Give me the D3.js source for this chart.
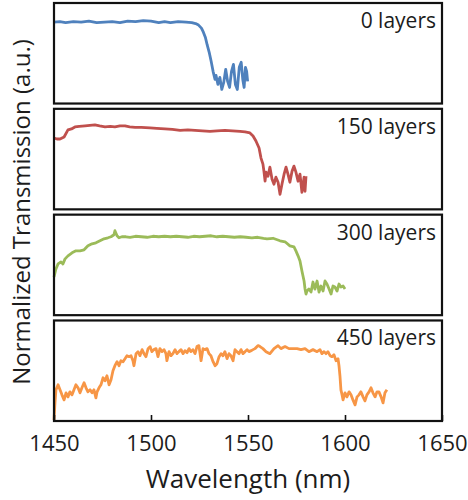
<!DOCTYPE html>
<html>
<head>
<meta charset="utf-8">
<script src="https://cdnjs.cloudflare.com/ajax/libs/d3/7.8.5/d3.min.js"></script>
<style>
  body { margin: 0; background: #fff; }
  text { font-family: "Open Sans", sans-serif; fill: #1c1c1c; }
</style>
</head>
<body>
<div id="chart"></div>
<script>
const width = 468;
const height = 500;
const margins = ({
    top: 3,
    right: 26,
    bottom: 79,
    left: 54
})
const panelGap = 5.3

// tick labels of the shared wavelength axis
const xTicks = [1450, 1500, 1550, 1600, 1650]
const panelLabels = ["0 layers", "150 layers", "300 layers", "450 layers"]
const colors = ["#4f81bd", "#c0504d", "#9bbb59", "#f79646"]

// wavelength (nm), normalized transmission (a.u.)
const wl0 = [1450, 1453, 1456, 1460, 1464, 1468, 1472, 1476, 1480, 1484, 1488, 1492, 1496, 1500, 1504, 1507, 1510, 1514, 1518, 1521,
    1523, 1524.5, 1526, 1527, 1528, 1529, 1530, 1531, 1532, 1533, 1533.5, 1534.5, 1535.5, 1536.5, 1537.5, 1538.5, 1539.5, 1540.5,
    1541.5, 1542.5, 1543.5, 1544.5, 1545.5, 1546.5, 1547.3, 1548, 1548.7, 1549.3, 1549.8]
const t0 = [0.81, 0.815, 0.805, 0.815, 0.81, 0.82, 0.805, 0.81, 0.815, 0.805, 0.82, 0.815, 0.825, 0.82, 0.805, 0.815, 0.805, 0.815, 0.81, 0.805,
    0.795, 0.78, 0.75, 0.71, 0.66, 0.58, 0.51, 0.42, 0.32, 0.24, 0.28, 0.19, 0.26, 0.14, 0.21, 0.34, 0.22, 0.16,
    0.32, 0.39, 0.19, 0.14, 0.36, 0.41, 0.24, 0.16, 0.36, 0.32, 0.22]

const wl150 = [1450, 1451.5, 1453.1, 1455.2, 1457.2, 1459, 1460.8, 1463, 1466, 1468.5, 1471.1, 1473.5, 1476.3, 1479, 1481.4, 1484, 1486.6,
    1489, 1491.8, 1495, 1499.5, 1503, 1507.2, 1511, 1515, 1519, 1522.7, 1526.5, 1530.4, 1534, 1538.1, 1542, 1545.9, 1548.5, 1551,
    1552.6, 1554.1, 1555.7, 1556.7, 1557.7, 1558.2, 1558.8, 1559.3, 1560.3, 1561.3, 1562.4, 1563.4, 1564.4, 1565.5, 1566.5, 1567.5,
    1568.6, 1569.6, 1570.6, 1571.6, 1572.7, 1573.7, 1574.7, 1575.8, 1576.8, 1577.8, 1578.9, 1579.4, 1579.9]
const t150 = [0.71, 0.70, 0.70, 0.72, 0.79, 0.80, 0.82, 0.825, 0.83, 0.835, 0.84, 0.83, 0.82, 0.825, 0.82, 0.83, 0.83,
    0.82, 0.815, 0.815, 0.81, 0.805, 0.80, 0.795, 0.785, 0.79, 0.785, 0.78, 0.775, 0.78, 0.785, 0.78, 0.775, 0.77, 0.76,
    0.73, 0.68, 0.61, 0.51, 0.45, 0.38, 0.28, 0.37, 0.33, 0.42, 0.30, 0.25, 0.32, 0.27, 0.15, 0.25,
    0.35, 0.42, 0.35, 0.27, 0.38, 0.43, 0.37, 0.28, 0.35, 0.17, 0.32, 0.18, 0.33]

const wl300 = [1450, 1451, 1452.1, 1453.6, 1454.6, 1455.7, 1457.2, 1459.3, 1461.3, 1463.4, 1465.5, 1467.5, 1469.6, 1471.6, 1473.7,
    1475.8, 1477.8, 1479.4, 1480.9, 1481.4, 1482.5, 1483.5, 1485, 1487.1, 1489.2, 1492, 1495, 1498, 1501, 1504, 1507, 1510, 1513,
    1516, 1519, 1522, 1525, 1528, 1531, 1534, 1537, 1540, 1543, 1546, 1549, 1552, 1555, 1558, 1559.8, 1562.9, 1566.5, 1569.1,
    1571.6, 1573.7, 1574.7, 1575.8, 1576.8, 1577.8, 1578.9, 1579.4, 1579.9, 1580.4, 1581.4, 1582.5, 1583.5, 1584.5, 1585.6,
    1586.6, 1587.6, 1588.7, 1589.7, 1590.7, 1591.8, 1592.8, 1593.8, 1594.8, 1595.9, 1596.9, 1597.9, 1599, 1600]
const t300 = [0.38, 0.46, 0.51, 0.53, 0.51, 0.56, 0.59, 0.62, 0.64, 0.64, 0.65, 0.69, 0.71, 0.72, 0.74,
    0.76, 0.77, 0.78, 0.80, 0.84, 0.79, 0.77, 0.78, 0.78, 0.775, 0.785, 0.78, 0.775, 0.785, 0.78, 0.785, 0.78, 0.785,
    0.78, 0.775, 0.785, 0.78, 0.785, 0.79, 0.78, 0.785, 0.78, 0.775, 0.78, 0.775, 0.77, 0.775, 0.765, 0.76, 0.765, 0.74, 0.73,
    0.69, 0.68, 0.64, 0.59, 0.54, 0.44, 0.34, 0.26, 0.21, 0.24, 0.26, 0.23, 0.33, 0.26, 0.34,
    0.23, 0.29, 0.24, 0.34, 0.31, 0.26, 0.21, 0.29, 0.28, 0.24, 0.31, 0.28, 0.29, 0.26]

const wl450 = [1450, 1450.5, 1451, 1452.1, 1453.1, 1454.1, 1455.2, 1456.2, 1457.2, 1458.2, 1459.3, 1460.3, 1461.3, 1462.4, 1463.4,
    1464.4, 1465.5, 1466.5, 1467.5, 1468.6, 1469.6, 1470.6, 1471.6, 1472.2, 1473.2, 1474.2, 1475.3, 1476.3, 1477.3, 1478.4, 1479.4,
    1480.4, 1481.4, 1482.5, 1483.5, 1484.5, 1485.6, 1486.6, 1487.6, 1488.7, 1489.7, 1490.7, 1491.2, 1492.3, 1493.3, 1494.3, 1495.4,
    1496.4, 1497.4, 1498.5, 1499.5, 1500.5, 1501.5, 1502.6, 1503.6, 1504.6, 1505.7, 1506.7, 1507.7, 1508.2, 1509.3, 1510.3, 1511.3,
    1512.4, 1513.4, 1514.4, 1515.5, 1516.5, 1517.5, 1518.6, 1519.6, 1520.6, 1521.6, 1522.7, 1523.7, 1524.7, 1525.8, 1526.8, 1527.8,
    1528.9, 1529.9, 1530.9, 1532, 1533, 1534, 1535.1, 1536.1, 1537.1, 1538.1, 1539.2, 1540.2, 1541.2, 1542.3, 1543.3, 1544.3,
    1545.4, 1546.4, 1547.4, 1548.5, 1549.5, 1550.5, 1551.6, 1552.6, 1553.6, 1555.2, 1556.2, 1557.7, 1559.3, 1561.3, 1563.4, 1565.5,
    1567, 1569.1, 1571.1, 1573.2, 1575.3, 1577.3, 1579.4, 1581.4, 1583.5, 1585.6, 1587.1, 1588.1, 1589.2, 1590.2, 1591.2, 1592.3,
    1593.3, 1594.3, 1595.4, 1596.4, 1596.9, 1597.4, 1597.9, 1598.5, 1599, 1600, 1601, 1602.1, 1603.1, 1604.1, 1605.2, 1606.2,
    1607.2, 1608.2, 1609.3, 1610.3, 1611.3, 1612.4, 1613.4, 1614.4, 1615.5, 1616.5, 1617.5, 1618.6, 1619.6, 1620.6, 1621.6]
const t450 = [0.01, 0.18, 0.31, 0.36, 0.31, 0.26, 0.21, 0.28, 0.24, 0.29, 0.26, 0.31, 0.36, 0.33, 0.28,
    0.33, 0.38, 0.33, 0.29, 0.31, 0.28, 0.31, 0.23, 0.29, 0.33, 0.36, 0.43, 0.40, 0.45, 0.36, 0.41,
    0.50, 0.55, 0.59, 0.55, 0.60, 0.59, 0.62, 0.65, 0.64, 0.65, 0.60, 0.55, 0.67, 0.69, 0.65, 0.71,
    0.67, 0.64, 0.72, 0.74, 0.69, 0.71, 0.72, 0.64, 0.72, 0.69, 0.71, 0.67, 0.60, 0.69, 0.65, 0.67,
    0.71, 0.67, 0.69, 0.71, 0.67, 0.70, 0.68, 0.72, 0.69, 0.71, 0.67, 0.74, 0.75, 0.60, 0.72, 0.71,
    0.72, 0.67, 0.65, 0.59, 0.55, 0.57, 0.64, 0.67, 0.65, 0.69, 0.62, 0.67, 0.65, 0.60, 0.71, 0.69,
    0.67, 0.71, 0.67, 0.69, 0.71, 0.69, 0.70, 0.71, 0.72, 0.75, 0.74, 0.72, 0.69, 0.67, 0.72, 0.75,
    0.72, 0.74, 0.72, 0.72, 0.72, 0.71, 0.72, 0.69, 0.71, 0.69, 0.71, 0.67, 0.69, 0.67, 0.69, 0.65,
    0.64, 0.66, 0.60, 0.62, 0.55, 0.45, 0.31, 0.26, 0.21, 0.28, 0.24, 0.29, 0.26, 0.21, 0.16, 0.24,
    0.26, 0.29, 0.24, 0.20, 0.26, 0.29, 0.33, 0.28, 0.24, 0.29, 0.29, 0.24, 0.18, 0.28, 0.31]

const series = [[wl0, t0], [wl150, t150], [wl300, t300], [wl450, t450]]

const svg = d3.select("#chart")
    .append("svg")
    .attr("width", width)
    .attr("height", height)

const plotHeight = height - margins.top - margins.bottom
const panelHeight = (plotHeight - panelGap * 3) / 4

const x = d3.scaleLinear()
    .domain([1450, 1650])
    .range([margins.left, width - margins.right])
const y = d3.scaleLinear()
    .domain([0, 1])
    .range([panelHeight, 0])

const line = d3.line()
    .x(d => x(d[0]))
    .y(d => y(d[1]))

series.forEach(([wl, t], i) => {
    let top = margins.top + i * (panelHeight + panelGap)
    let g = svg.append("g").attr("transform", `translate(0,${top})`)
    let points = wl.map((w, k) => [w, t[k]])
    g.append("path")
        .datum(points)
        .attr("fill", "none")
        .attr("stroke", colors[i])
        .attr("stroke-width", 2.8)
        .attr("stroke-linejoin", "round")
        .attr("d", line)
    g.append("rect")
        .attr("x", x(1450))
        .attr("y", 0)
        .attr("width", x(1650) - x(1450))
        .attr("height", panelHeight)
        .attr("fill", "none")
        .attr("stroke", "#111")
        .attr("stroke-width", 2.2)
    g.append("text")
        .attr("x", x(1650) - 6)
        .attr("y", 25)
        .attr("text-anchor", "end")
        .style("font-size", "21px")
        .text(panelLabels[i])
    if (i == 3) {
        let axis = d3.axisBottom(x)
            .tickValues(xTicks)
            .tickSize(-6)
            .tickPadding(14)
            .tickFormat(d3.format("d"))
        let ax = g.append("g")
            .attr("transform", `translate(0,${panelHeight})`)
            .call(axis)
        ax.select(".domain").remove()
        ax.selectAll(".tick line").attr("stroke", "#111").attr("stroke-width", 1.6)
        ax.selectAll(".tick text")
            .style("font-size", "22px")
            .style("font-family", "'Open Sans', sans-serif")
            .attr("fill", "#1c1c1c")
    }
})

svg.append("text")
    .attr("x", (x(1450) + x(1650)) / 2)
    .attr("y", 488)
    .attr("text-anchor", "middle")
    .style("font-size", "26px")
    .text("Wavelength (nm)")

svg.append("text")
    .attr("transform", `translate(30,${margins.top + plotHeight / 2}) rotate(-90)`)
    .attr("text-anchor", "middle")
    .style("font-size", "24px")
    .text("Normalized Transmission (a.u.)")
</script>
</body>
</html>
